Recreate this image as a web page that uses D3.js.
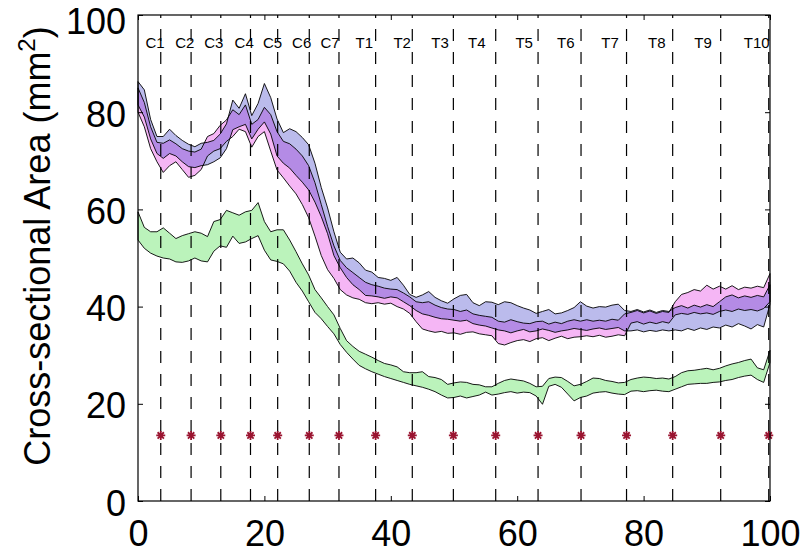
<!DOCTYPE html>
<html>
<head>
<meta charset="utf-8">
<script src="https://cdn.jsdelivr.net/npm/d3@7"></script>
<style>
  html, body { margin: 0; padding: 0; background: #fff; }
  svg { display: block; font-family: "Liberation Sans", Arial, Helvetica, sans-serif; }
</style>
</head>
<body>
<svg id="chart" width="802" height="554"></svg>
<script>
// Position along the cervical/thoracic canal (% of length), one sample per percent
const position = d3.range(0, 101);

// Group A (blue band): upper and lower bound of cross-sectional area, mm^2
const blueUpper = [86.3,84.6,78.5,75.0,75.0,76.5,75.2,74.2,73.4,72.9,
  73.6,73.8,74.2,75.5,77.6,82.5,80.8,83.8,79.3,81.8,
  85.9,83.0,78.6,75.8,76.6,76.0,74.8,73.3,69.5,64.5,
  60.3,55.4,51.2,49.8,50.0,49.0,47.5,47.1,46.0,45.8,
  45.4,46.0,44.4,42.5,41.9,42.4,43.1,41.9,41.2,40.7,
  41.6,42.3,42.5,40.8,40.2,41.0,40.9,40.4,41.0,40.8,
  40.2,39.7,39.3,38.6,39.0,39.4,38.5,38.7,39.2,39.8,
  41.0,40.1,39.7,40.0,39.9,40.3,40.5,39.2,39.0,39.4,
  38.9,39.3,38.8,39.2,39.0,39.8,40.2,39.7,40.3,39.9,
  40.4,40.0,41.0,42.0,42.4,41.8,42.2,41.9,42.3,42.0,44.5];
const blueLower = [81.5,79.0,74.5,71.5,70.5,71.5,71.0,69.8,68.8,68.6,
  69.0,69.2,69.8,70.6,72.5,76.4,77.0,77.5,74.5,76.5,
  78.0,75.5,71.0,69.5,68.5,67.0,65.6,64.0,61.5,58.5,
  55.0,50.5,48.0,46.0,44.5,43.5,42.3,42.2,42.0,41.7,
  42.0,41.8,41.0,40.2,39.2,38.5,38.2,37.8,37.5,37.4,
  37.2,37.0,37.2,36.5,36.2,36.0,35.6,35.2,35.0,34.6,
  35.0,35.3,34.8,35.0,35.4,35.1,34.7,35.0,35.2,35.5,
  35.3,35.1,35.4,35.6,35.3,35.5,35.7,35.0,35.0,35.2,
  34.8,35.1,34.9,35.2,35.0,35.2,35.0,35.5,35.1,35.6,
  35.3,35.8,35.6,36.2,35.8,36.5,36.0,35.4,36.3,35.8,40.5];

// Group B (pink band)
const pinkUpper = [85.0,82.0,77.0,73.8,73.6,74.3,73.5,72.5,72.0,71.8,
  72.4,75.0,75.6,77.3,78.4,80.5,79.5,81.5,77.5,78.5,
  81.0,79.5,76.0,74.0,73.5,72.4,71.0,69.0,65.5,61.0,
  56.5,52.5,49.5,48.0,47.0,46.0,45.0,44.5,44.2,43.8,
  43.6,43.5,42.8,42.0,41.0,40.8,41.0,40.3,39.8,39.5,
  39.4,39.0,39.3,38.5,38.2,38.0,37.8,37.0,36.8,37.3,
  36.9,36.6,36.5,36.9,37.0,36.4,36.8,36.5,37.0,37.3,
  37.0,37.3,37.0,37.2,37.0,37.4,37.2,38.5,38.8,39.2,
  38.7,39.1,38.6,39.0,38.8,41.0,42.5,42.9,43.5,43.2,
  44.4,43.6,44.2,43.6,44.3,43.5,44.0,43.8,44.2,43.9,46.8];
const pinkLower = [80.0,77.0,72.5,69.8,67.6,69.0,69.8,68.2,66.6,67.0,
  68.2,71.0,72.0,72.5,74.0,75.0,76.5,76.0,72.8,75.0,
  76.0,72.0,68.1,66.5,64.8,63.2,61.0,58.3,54.5,50.5,
  47.6,45.8,43.5,42.4,41.8,41.5,40.8,40.6,40.8,40.5,
  40.7,40.0,39.5,38.6,36.9,35.4,35.0,34.7,34.9,34.5,
  34.6,34.3,34.7,34.8,34.4,34.2,34.0,32.4,32.1,32.6,
  33.0,33.2,32.8,33.4,33.6,33.0,33.5,33.9,33.4,33.7,
  33.8,34.0,33.8,34.1,33.7,33.9,34.2,34.0,36.6,36.9,
  36.4,36.8,36.5,36.9,36.6,38.3,38.6,38.4,38.8,38.5,
  38.7,38.4,39.0,39.3,39.0,39.5,39.2,39.4,39.1,39.6,41.0];

// Group C (green band)
const greenUpper = [59.5,56.3,55.4,55.4,56.2,55.1,54.0,54.6,55.0,55.4,
  55.1,54.4,57.5,57.9,59.8,59.3,58.8,59.5,59.8,61.4,
  57.5,55.4,55.8,55.8,53.7,51.3,48.8,46.5,43.5,41.8,
  40.0,38.3,35.5,33.0,31.8,30.8,30.2,29.6,28.9,28.3,
  28.0,27.6,26.6,26.4,26.4,26.6,25.6,25.4,25.0,24.0,
  24.3,24.5,24.4,24.0,23.9,23.5,23.5,24.2,24.8,25.1,
  24.9,24.7,24.2,23.5,23.6,25.2,25.5,25.4,24.6,23.7,
  24.0,24.6,25.3,25.2,24.8,24.6,24.3,24.4,25.0,25.3,
  25.5,25.4,25.2,25.3,25.1,25.6,26.4,26.8,26.9,27.1,
  27.3,27.0,27.3,27.8,28.2,28.5,28.9,29.2,27.4,27.0,31.0];
const greenLower = [53.7,52.0,51.0,50.4,50.0,49.8,49.2,49.1,49.4,50.0,
  49.4,49.2,51.4,52.5,52.2,54.5,53.0,53.3,54.0,54.6,
  51.6,49.6,49.3,48.8,47.3,45.0,43.2,41.0,38.8,37.5,
  35.9,34.4,32.2,30.6,29.2,27.9,27.2,26.6,26.1,25.6,
  25.2,24.8,24.4,24.0,23.7,23.4,23.0,22.5,21.8,21.2,
  21.3,21.6,21.2,21.5,21.8,22.4,21.8,22.0,22.3,22.5,
  22.2,22.4,22.3,21.6,19.9,23.6,24.0,23.4,22.0,20.6,
  21.3,21.6,22.2,22.4,22.5,22.2,22.0,21.9,22.6,22.7,
  22.5,22.7,22.8,22.6,22.5,23.0,23.5,24.0,24.1,24.2,
  24.2,24.4,24.5,24.8,25.0,25.4,25.7,25.9,25.0,24.4,28.5];

// Vertebral levels: boundary positions along the canal, names and name positions
const levelPos = [3.6, 8.4, 13.1, 17.8, 22.1, 27.1, 31.8, 37.6, 43.4, 49.9,
  56.6, 63.3, 70.1, 77.3, 84.6, 92.2, 99.8];
const levelNames = ["C1","C2","C3","C4","C5","C6","C7","T1","T2","T3",
  "T4","T5","T6","T7","T8","T9","T10"];
const levelNamePos = [2.7, 7.4, 12.0, 16.8, 21.3, 25.9, 30.4, 35.8, 41.8, 47.8,
  53.6, 61.1, 67.7, 74.7, 82.1, 89.4, 97.9];
const levelMarkerValue = 13.5;   // level markers drawn along this value
const levelLabelValue = 93.2;    // baseline of the level names

const xTicks = [0, 20, 40, 60, 80, 100];
const yTicks = [0, 20, 40, 60, 80, 100];

const svg = d3.select("#chart");
const x = d3.scaleLinear().domain([0, 100]).range([138, 770]);
const y = d3.scaleLinear().domain([0, 100]).range([501, 15]);

const bands = [
  { upper: greenUpper, lower: greenLower, fill: "rgb(60,220,60)" },
  { upper: pinkUpper,  lower: pinkLower,  fill: "rgb(225,45,225)" },
  { upper: blueUpper,  lower: blueLower,  fill: "rgb(60,60,200)" }
];

const bandArea = (b) => d3.area()
  .x((d, i) => x(position[i]))
  .y0((d, i) => y(b.lower[i]))
  .y1((d, i) => y(b.upper[i]));

// translucent fills first, so overlaps blend
svg.append("g").selectAll("path").data(bands).join("path")
  .attr("d", b => bandArea(b)(b.upper))
  .attr("fill", b => b.fill)
  .attr("fill-opacity", 0.35)
  .attr("stroke", "none");

// black outlines of each band polygon
svg.append("g").selectAll("path").data(bands).join("path")
  .attr("d", b => bandArea(b)(b.upper))
  .attr("fill", "none")
  .attr("stroke", "#000")
  .attr("stroke-width", 0.9)
  .attr("stroke-linejoin", "round");

// dashed level lines
svg.append("g").selectAll("line").data(levelPos).join("line")
  .attr("x1", d => x(d)).attr("x2", d => x(d))
  .attr("y1", y(100)).attr("y2", y(0))
  .attr("stroke", "#000")
  .attr("stroke-width", 1.2)
  .attr("stroke-dasharray", "12,11")
  .attr("stroke-dashoffset", 9);

// level markers (asterisks)
const star = (s) => `M${-s},0H${s}M0,${-s}V${s}M${-s*0.7},${-s*0.7}L${s*0.7},${s*0.7}M${-s*0.7},${s*0.7}L${s*0.7},${-s*0.7}`;
svg.append("g").selectAll("path").data(levelPos).join("path")
  .attr("transform", d => `translate(${x(d)},${y(levelMarkerValue)})`)
  .attr("d", star(4.5))
  .attr("fill", "none")
  .attr("stroke", "#9a1430")
  .attr("stroke-width", 1.8);

// level names
svg.append("g").selectAll("text").data(levelNames).join("text")
  .attr("x", (d, i) => x(levelNamePos[i]))
  .attr("y", y(levelLabelValue))
  .attr("text-anchor", "middle")
  .attr("font-size", 15)
  .attr("fill", "#000")
  .text(d => d);

// axes: inward ticks, mirrored on top and right
const fontSize = 36;
const gx = svg.append("g").attr("transform", `translate(0,${y(0)})`)
  .call(d3.axisBottom(x).tickValues(xTicks).tickSizeInner(-5).tickSizeOuter(0).tickPadding(0));
gx.selectAll("text").attr("y", 45).attr("dy", null).attr("font-size", fontSize).attr("font-family", null);

const gy = svg.append("g").attr("transform", `translate(${x(0)},0)`)
  .call(d3.axisLeft(y).tickValues(yTicks).tickSizeInner(-5).tickSizeOuter(0).tickPadding(12));
// baseline a little below tick centre, kept inside the top edge
gy.selectAll(".tick text")
  .attr("font-size", fontSize).attr("font-family", null)
  .attr("dy", null)
  .attr("y", d => Math.max(14, 33 - y(d)));

svg.append("g").attr("transform", `translate(0,${y(100)})`)
  .call(d3.axisTop(x).tickValues(xTicks).tickSizeInner(-5).tickSizeOuter(0).tickFormat(""));
svg.append("g").attr("transform", `translate(${x(100)},0)`)
  .call(d3.axisRight(y).tickValues(yTicks).tickSizeInner(-5).tickSizeOuter(0).tickFormat(""));

svg.selectAll(".domain").remove();
svg.selectAll(".tick line").attr("stroke", "#000").attr("stroke-width", 1);

// plot frame
svg.append("rect")
  .attr("x", x(0)).attr("y", y(100))
  .attr("width", x(100) - x(0)).attr("height", y(0) - y(100))
  .attr("fill", "none").attr("stroke", "#000").attr("stroke-width", 1.2);

// y-axis title with superscript
const title = svg.append("text")
  .attr("transform", `translate(50,${(y(0) + y(100)) / 2 - 12}) rotate(-90)`)
  .attr("text-anchor", "middle")
  .attr("font-size", fontSize)
  .attr("fill", "#000");
title.append("tspan").text("Cross-sectional Area (mm");
title.append("tspan").attr("font-size", 24).attr("dy", -15).text("2");
title.append("tspan").attr("dy", 15).text(")");
</script>
</body>
</html>
